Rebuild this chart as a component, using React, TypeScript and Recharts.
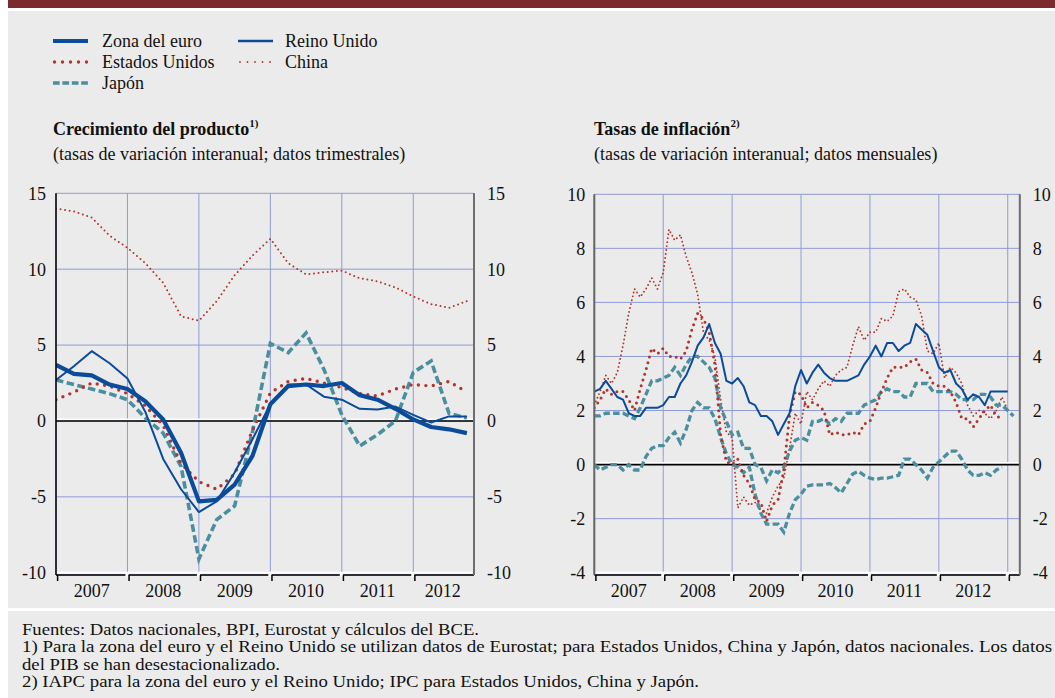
import React from 'react';
import { LineChart, Line, XAxis, YAxis, CartesianGrid, ReferenceLine } from 'recharts';

const FONT = '"Liberation Serif", "Times New Roman", Times, serif';
const BLUE = '#0B4C9A';
const RED = '#B0362C';
const TEAL = '#4B8E9F';
const GRID = '#8F9BD8';
const BG = '#EBEBEB';
const MAROON = '#7D2A2F';

// ---------- Left panel: GDP growth, quarterly 2007Q1 - 2012Q4 ----------
const yearLabels = ['2007', '2008', '2009', '2010', '2011', '2012'];
const gdpEuro = [3.7, 3.1, 3.0, 2.4, 2.1, 1.3, 0.1, -2.1, -5.3, -5.2, -4.2, -2.3, 1.1, 2.3, 2.4, 2.3, 2.5, 1.7, 1.4, 0.8, 0.1, -0.4, -0.55, -0.8];
const gdpUK = [2.7, 3.6, 4.6, 3.8, 2.8, 0.6, -2.5, -4.5, -6.0, -5.3, -3.4, -1.2, 1.1, 2.4, 2.4, 1.6, 1.4, 0.8, 0.75, 0.95, 0.4, -0.1, 0.3, 0.3];
const gdpUS = [1.4, 1.9, 2.5, 2.3, 1.8, 1.0, -0.3, -2.8, -4.0, -4.5, -3.5, -0.6, 1.85, 2.6, 2.8, 2.5, 2.2, 1.8, 1.65, 2.1, 2.4, 2.3, 2.6, 1.9];
const gdpChina = [14.0, 13.8, 13.4, 12.2, 11.4, 10.4, 9.1, 6.9, 6.6, 7.9, 9.6, 10.9, 12.0, 10.4, 9.65, 9.8, 9.9, 9.4, 9.2, 8.8, 8.2, 7.7, 7.45, 7.9];
const gdpJapan = [2.7, 2.4, 2.1, 1.8, 1.4, 0.2, -0.8, -3.0, -9.1, -6.5, -5.6, -0.7, 5.1, 4.5, 5.8, 3.4, 0.4, -1.65, -0.9, 0.0, 3.2, 3.95, 0.5, 0.2];
const gdpTicksY = [-10, -5, 0, 5, 10, 15];
const gdpYearStarts = [0, 4, 8, 12, 16, 20];
const gdpYearCentres = [2, 6, 10, 14, 18, 21.65];

// ---------- Right panel: inflation, monthly Jan 2007 - Feb 2013 ----------
const hicpEuro = [
  1.8, 1.8, 1.9, 1.9, 1.9, 1.9, 1.8, 1.7, 2.1, 2.6, 3.1, 3.1,
  3.2, 3.3, 3.6, 3.3, 3.7, 4.0, 4.0, 3.8, 3.6, 3.2, 2.1, 1.6,
  1.1, 1.2, 0.6, 0.6, 0.0, -0.1, -0.6, -0.2, -0.3, -0.1, 0.5, 0.9,
  1.0, 0.9, 1.6, 1.6, 1.7, 1.5, 1.7, 1.6, 1.9, 1.9, 1.9, 2.2,
  2.3, 2.4, 2.7, 2.8, 2.7, 2.7, 2.5, 2.5, 3.0, 3.0, 3.0, 2.7,
  2.7, 2.7, 2.7, 2.6, 2.4, 2.4, 2.4, 2.6, 2.6, 2.5, 2.2, 2.2,
  2.0, 1.8,
];
const cpiUK = [
  2.7, 2.8, 3.1, 2.8, 2.5, 2.4, 1.9, 1.8, 1.8, 2.1, 2.1, 2.1,
  2.2, 2.5, 2.5, 3.0, 3.3, 3.8, 4.4, 4.7, 5.2, 4.5, 4.1, 3.1,
  3.0, 3.2, 2.9, 2.3, 2.2, 1.8, 1.8, 1.6, 1.1, 1.5, 1.9, 2.9,
  3.5, 3.0, 3.4, 3.7, 3.4, 3.2, 3.1, 3.1, 3.1, 3.2, 3.3, 3.7,
  4.0, 4.4, 4.0, 4.5, 4.5, 4.2, 4.4, 4.5, 5.2, 5.0, 4.8, 4.2,
  3.6, 3.4, 3.5, 3.0, 2.8, 2.4, 2.6, 2.5, 2.2, 2.7, 2.7, 2.7,
  2.7,
];
const cpiUS = [
  2.1, 2.4, 2.8, 2.6, 2.7, 2.7, 2.4, 2.0, 2.8, 3.5, 4.3, 4.1,
  4.3, 4.0, 4.0, 3.9, 4.2, 5.0, 5.6, 5.4, 4.9, 3.7, 1.1, 0.1,
  0.0, 0.2, -0.4, -0.7, -1.3, -1.4, -2.1, -1.5, -1.3, -0.2, 1.8, 2.7,
  2.6, 2.1, 2.3, 2.2, 2.0, 1.1, 1.2, 1.1, 1.1, 1.2, 1.1, 1.5,
  1.6, 2.1, 2.7, 3.2, 3.6, 3.6, 3.6, 3.8, 3.9, 3.5, 3.4, 3.0,
  2.9, 2.9, 2.7, 2.3, 1.7, 1.7, 1.4, 1.7, 2.0, 2.2, 1.8, 1.7,
];
const cpiChina = [
  2.2, 2.7, 3.3, 3.0, 3.4, 4.4, 5.6, 6.5, 6.2, 6.5, 6.9, 6.5,
  7.1, 8.7, 8.3, 8.5, 7.7, 7.1, 6.3, 4.9, 4.6, 4.0, 2.4, 1.2,
  1.0, -1.6, -1.2, -1.5, -1.4, -1.7, -1.8, -1.2, -0.8, -0.5, 0.6, 1.9,
  1.5, 2.7, 2.4, 2.8, 3.1, 2.9, 3.3, 3.5, 3.6, 4.4, 5.1, 4.6,
  4.9, 4.9, 5.4, 5.3, 5.5, 6.4, 6.5, 6.2, 6.1, 5.5, 4.2, 4.1,
  4.5, 3.2, 3.6, 3.4, 3.0, 2.2, 1.8, 2.0, 1.9, 1.7, 2.0, 2.5,
  2.0,
];
const cpiJapan = [
  0.0, -0.2, -0.1, 0.0, 0.0, -0.2, 0.0, -0.2, -0.2, 0.3, 0.6, 0.7,
  0.7, 1.0, 1.2, 0.8, 1.3, 2.0, 2.3, 2.1, 2.1, 1.7, 1.0, 0.4,
  0.0, -0.1, -0.3, -0.1, -1.1, -1.8, -2.2, -2.2, -2.2, -2.5, -1.8, -1.3,
  -1.1, -0.8, -0.75, -0.75, -0.75, -0.7, -0.85, -1.05, -0.7, -0.35, -0.25, -0.4,
  -0.5, -0.55, -0.5, -0.5, -0.45, -0.4, 0.2, 0.2, 0.0, -0.2, -0.5, -0.1,
  0.1, 0.3, 0.5, 0.5, 0.2, -0.2, -0.4, -0.4, -0.3, -0.4, -0.2, -0.1,
];
const infTicksY = [-4, -2, 0, 2, 4, 6, 8, 10];
const infYearStarts = [0, 12, 24, 36, 48, 60, 72];
const infYearCentres = [6, 18, 30, 42, 54, 66];

const gdpData = gdpEuro.map((v, i) => ({
  x: i, euro: v, uk: gdpUK[i], us: gdpUS[i], china: gdpChina[i], japan: gdpJapan[i],
}));
const infData = hicpEuro.map((v, i) => ({
  x: i,
  euro: v,
  uk: i < cpiUK.length ? cpiUK[i] : null,
  us: i < cpiUS.length ? cpiUS[i] : null,
  china: i < cpiChina.length ? cpiChina[i] : null,
  japan: i < cpiJapan.length ? cpiJapan[i] : null,
}));

const tickText = { fill: '#111', fontSize: 18, fontFamily: FONT };

const BracketTick = (props: any) => {
  const { x, y, index } = props;
  return (
    <g>
      {index > 0 && <rect x={x - 2} y={y - 1.6} width={3.2} height={3.2} fill="#fff" />}
      <line x1={x + 1.6} x2={x + 1.6} y1={y} y2={y + 6} stroke="#000" strokeWidth={1.5} />
    </g>
  );
};

const makeYearTick = (starts: number[]) => (props: any) => {
  const { x, y, payload } = props;
  const idx = payload && payload.index !== undefined ? payload.index : props.index;
  return (
    <text x={x} y={y + 6} textAnchor="middle" dominantBaseline="central" {...tickText}>
      {yearLabels[idx]}
    </text>
  );
};

const GdpChart = () => (
  <LineChart width={530} height={440} data={gdpData} margin={{ top: 13.3, right: 16, bottom: 10, left: 16 }}>
    <CartesianGrid stroke={GRID} strokeWidth={1} xAxisId="b" yAxisId="l" />
    <XAxis xAxisId="b" dataKey="x" type="number" domain={[0, 23.4]} allowDataOverflow ticks={gdpYearStarts} interval={0}
      axisLine={{ stroke: '#000', strokeWidth: 1.5 }} tickLine={false} tickSize={0} tickMargin={0} height={10} tick={BracketTick} />
    <XAxis xAxisId="lab" dataKey="x" type="number" domain={[0, 23.4]} allowDataOverflow ticks={gdpYearCentres} interval={0}
      axisLine={false} tickLine={false} tickSize={0} tickMargin={0} height={25} tick={makeYearTick(gdpYearCentres)} />
    <YAxis yAxisId="l" type="number" domain={[-10.15, 15]} allowDataOverflow ticks={gdpTicksY} interval={0} width={40}
      axisLine={{ stroke: '#000', strokeWidth: 1.5 }} tickLine={false} tickSize={6} tickMargin={4} tick={tickText} />
    <YAxis yAxisId="r" orientation="right" type="number" domain={[-10.15, 15]} allowDataOverflow ticks={gdpTicksY} interval={0} width={40}
      axisLine={{ stroke: '#6E6E6E', strokeWidth: 2 }} tickLine={false} tickSize={6} tickMargin={7} tick={{ ...tickText, textAnchor: 'start' }} />
    <ReferenceLine xAxisId="b" yAxisId="l" y={-10} stroke="#fff" strokeWidth={2} />
    <ReferenceLine xAxisId="b" yAxisId="l" y={0.1} stroke="#fff" strokeWidth={2} />
    <ReferenceLine xAxisId="b" yAxisId="l" y={0} stroke="#000" strokeWidth={1.6} />
    <Line xAxisId="b" yAxisId="l" dataKey="china" stroke={RED} strokeWidth={2} strokeDasharray="0 4.6" strokeLinecap="round" dot={false} isAnimationActive={false} />
    <Line xAxisId="b" yAxisId="l" dataKey="japan" stroke={TEAL} strokeWidth={3.6} strokeDasharray="7.5 3.5" dot={false} isAnimationActive={false} />
    <Line xAxisId="b" yAxisId="l" dataKey="us" stroke={RED} strokeWidth={3.4} strokeDasharray="0 7.5" strokeLinecap="round" dot={false} isAnimationActive={false} />
    <Line xAxisId="b" yAxisId="l" dataKey="uk" stroke={BLUE} strokeWidth={2} strokeLinejoin="round" dot={false} isAnimationActive={false} />
    <Line xAxisId="b" yAxisId="l" dataKey="euro" stroke={BLUE} strokeWidth={4.2} strokeLinejoin="round" dot={false} isAnimationActive={false} />
  </LineChart>
);

const InfChart = () => (
  <LineChart width={525} height={440} data={infData} margin={{ top: 14.3, right: 5.2, bottom: 10, left: 24.3 }}>
    <CartesianGrid stroke={GRID} strokeWidth={1} xAxisId="b" yAxisId="l" />
    <XAxis xAxisId="b" dataKey="x" type="number" domain={[0, 74.1]} allowDataOverflow ticks={infYearStarts} interval={0}
      axisLine={{ stroke: '#000', strokeWidth: 1.5 }} tickLine={false} tickSize={0} tickMargin={0} height={10} tick={BracketTick} />
    <XAxis xAxisId="lab" dataKey="x" type="number" domain={[0, 74.1]} allowDataOverflow ticks={infYearCentres} interval={0}
      axisLine={false} tickLine={false} tickSize={0} tickMargin={0} height={25} tick={makeYearTick(infYearCentres)} />
    <YAxis yAxisId="l" type="number" domain={[-4.085, 10]} allowDataOverflow ticks={infTicksY} interval={0} width={40}
      axisLine={{ stroke: '#666', strokeWidth: 2 }} tickLine={false} tickSize={6} tickMargin={3} tick={tickText} />
    <YAxis yAxisId="r" orientation="right" type="number" domain={[-4.085, 10]} allowDataOverflow ticks={infTicksY} interval={0} width={30}
      axisLine={{ stroke: '#6E6E6E', strokeWidth: 2 }} tickLine={false} tickSize={6} tickMargin={7} tick={{ ...tickText, textAnchor: 'start' }} />
    <ReferenceLine xAxisId="b" yAxisId="l" y={-4} stroke="#fff" strokeWidth={2} />
    <ReferenceLine xAxisId="b" yAxisId="l" y={0.055} stroke="#fff" strokeWidth={2} />
    <ReferenceLine xAxisId="b" yAxisId="l" y={0} stroke="#000" strokeWidth={1.6} />
    <Line xAxisId="b" yAxisId="l" dataKey="china" stroke={RED} strokeWidth={1.9} strokeDasharray="0 4" strokeLinecap="round" dot={false} isAnimationActive={false} />
    <Line xAxisId="b" yAxisId="l" dataKey="japan" stroke={TEAL} strokeWidth={3.3} strokeDasharray="6.5 3.2" dot={false} isAnimationActive={false} />
    <Line xAxisId="b" yAxisId="l" dataKey="euro" stroke={TEAL} strokeWidth={3.3} strokeDasharray="6.5 3.2" dot={false} isAnimationActive={false} />
    <Line xAxisId="b" yAxisId="l" dataKey="us" stroke={RED} strokeWidth={3} strokeDasharray="0 6" strokeLinecap="round" dot={false} isAnimationActive={false} />
    <Line xAxisId="b" yAxisId="l" dataKey="uk" stroke={BLUE} strokeWidth={2} strokeLinejoin="round" dot={false} isAnimationActive={false} />
  </LineChart>
);

const txt = { fontFamily: FONT, fontSize: 18, fill: '#111' };
const foot = { fontFamily: FONT, fontSize: 16, fill: '#111' };

const Overlay = () => (
  <svg width={1055} height={698} style={{ position: 'absolute', left: 0, top: 0 }}>
    {/* legend */}
    <line x1={53} x2={88} y1={41} y2={41} stroke={BLUE} strokeWidth={4} />
    <text x={102} y={41} dominantBaseline="central" {...txt}>Zona del euro</text>
    <line x1={54.5} x2={87} y1={62} y2={62} stroke={RED} strokeWidth={3.4} strokeDasharray="0 8" strokeLinecap="round" />
    <text x={102} y={62} dominantBaseline="central" {...txt}>Estados Unidos</text>
    <line x1={53} x2={88} y1={83} y2={83} stroke={TEAL} strokeWidth={3.5} strokeDasharray="6.7 2.7" />
    <text x={102} y={83} dominantBaseline="central" {...txt}>Japón</text>
    <line x1={238} x2={273} y1={41} y2={41} stroke={BLUE} strokeWidth={2.4} />
    <text x={285} y={41} dominantBaseline="central" {...txt}>Reino Unido</text>
    <line x1={240} x2={273} y1={62} y2={62} stroke={RED} strokeWidth={1.8} strokeDasharray="0 7.5" strokeLinecap="round" />
    <text x={285} y={62} dominantBaseline="central" {...txt}>China</text>

    {/* titles */}
    <text x={53} y={128.5} dominantBaseline="central" {...txt} fontWeight="bold">
      Crecimiento del producto<tspan fontSize={11} dy={-6}>1)</tspan>
    </text>
    <text x={53} y={153.5} dominantBaseline="central" {...txt}>(tasas de variación interanual; datos trimestrales)</text>
    <text x={594} y={128.5} dominantBaseline="central" {...txt} fontWeight="bold">
      Tasas de inflación<tspan fontSize={11} dy={-6}>2)</tspan>
    </text>
    <text x={594} y={153.5} dominantBaseline="central" {...txt}>(tasas de variación interanual; datos mensuales)</text>

    {/* footer */}
    <text x={22} y={629} dominantBaseline="central" {...foot} textLength={457} lengthAdjust="spacingAndGlyphs">Fuentes: Datos nacionales, BPI, Eurostat y cálculos del BCE.</text>
    <text x={22} y={646.5} dominantBaseline="central" {...foot} textLength={1030} lengthAdjust="spacingAndGlyphs">1) Para la zona del euro y el Reino Unido se utilizan datos de Eurostat; para Estados Unidos, China y Japón, datos nacionales. Los datos</text>
    <text x={22} y={664} dominantBaseline="central" {...foot} textLength={258} lengthAdjust="spacingAndGlyphs">del PIB se han desestacionalizado.</text>
    <text x={22} y={681.5} dominantBaseline="central" {...foot} textLength={677} lengthAdjust="spacingAndGlyphs">2) IAPC para la zona del euro y el Reino Unido; IPC para Estados Unidos, China y Japón.</text>
  </svg>
);

export default function App() {
  return (
    <div style={{ position: 'absolute', left: 0, top: 0, width: 1055, height: 698, background: '#fff', overflow: 'hidden', fontFamily: FONT }}>
      <div style={{ position: 'absolute', left: 8, top: 0, width: 1047, height: 8, background: MAROON }} />
      <div style={{ position: 'absolute', left: 8, top: 11, width: 1047, height: 597, background: BG }} />
      <div style={{ position: 'absolute', left: 8, top: 611, width: 1047, height: 87, background: BG }} />
      <Overlay />
      <div style={{ position: 'absolute', left: 0, top: 180 }}>
        <GdpChart />
      </div>
      <div style={{ position: 'absolute', left: 530, top: 180 }}>
        <InfChart />
      </div>
    </div>
  );
}
